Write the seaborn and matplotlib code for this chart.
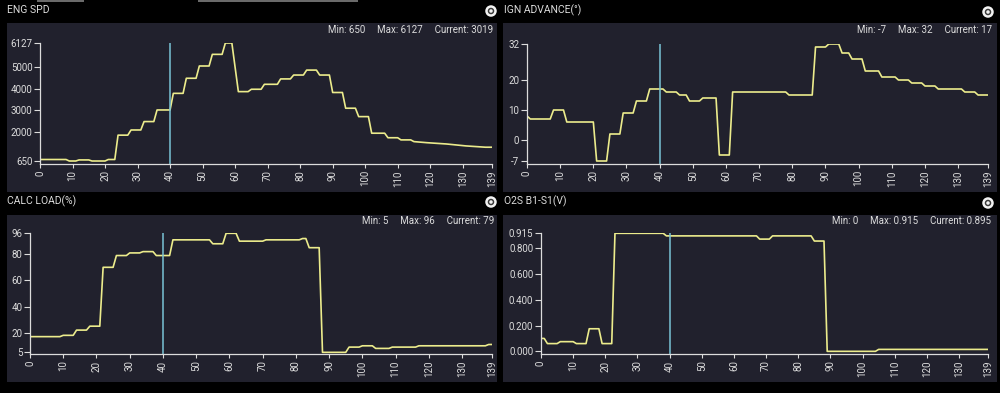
import matplotlib
matplotlib.use("Agg")
import matplotlib.pyplot as plt
import seaborn as sns
from matplotlib.patches import Rectangle, Ellipse

# ---------------- data (breakpoints of the logged traces) ----------------
x_ticks = [0, 10, 20, 30, 40, 50, 60, 70, 80, 90, 100, 110, 120, 130, 139]
cursor_x = 40

eng_x = [0, 8, 9, 11, 12, 15, 16, 20, 21, 23, 24, 27, 28, 31, 32, 35, 36, 40, 41, 44, 45, 48, 49, 52,
         53, 56, 57, 59, 61, 64, 65, 68, 69, 73, 74, 77, 78, 81, 82, 85, 86, 89, 90, 93, 94, 97, 98,
         101, 102, 106, 107, 110, 111, 114, 115, 119, 125, 131, 137, 139]
eng_y = [720, 720, 650, 650, 700, 700, 650, 650, 720, 720, 1850, 1850, 2090, 2090, 2480, 2480, 3019,
         3019, 3790, 3790, 4490, 4490, 5060, 5060, 5600, 5600, 6127, 6127, 3870, 3870, 3980, 3980,
         4210, 4210, 4460, 4460, 4640, 4640, 4870, 4870, 4640, 4640, 3830, 3830, 3100, 3100, 2710,
         2710, 1940, 1940, 1730, 1730, 1630, 1630, 1550, 1500, 1440, 1350, 1290, 1290]

ign_x = [0, 1, 7, 8, 11, 12, 20, 21, 24, 25, 28, 29, 32, 33, 36, 37, 41, 42, 45, 46, 48, 49, 52, 53,
         57, 58, 61, 62, 78, 79, 86, 87, 90, 91, 94, 95, 97, 98, 101, 102, 106, 107, 111, 112, 115,
         116, 119, 120, 123, 124, 131, 132, 135, 136, 139]
ign_y = [8, 7, 7, 10, 10, 6, 6, -7, -7, 2, 2, 9, 9, 13, 13, 17, 17, 16, 16, 15, 15, 13, 13, 14,
         14, -5, -5, 16, 16, 15, 15, 31, 31, 32, 32, 29, 29, 27, 27, 23, 23, 21, 21, 20, 20,
         19, 19, 18, 18, 17, 17, 16, 16, 15, 15]

load_x = [0, 9, 10, 13, 14, 17, 18, 21, 22, 25, 26, 29, 30, 33, 34, 37, 38, 42, 43, 54, 55, 58, 59,
          62, 63, 70, 71, 81, 82, 83, 84, 87, 88, 95, 96, 99, 100, 103, 104, 108, 109, 116, 117,
          137, 138, 139]
load_y = [17, 17, 18, 18, 22, 22, 25, 25, 70, 70, 79, 79, 81, 81, 82, 82, 79, 79, 91, 91, 88, 88, 96,
          96, 90, 90, 91, 91, 92, 92, 85, 85, 5, 5, 9, 9, 10, 10, 8, 8, 9, 9, 10,
          10, 11, 11]

o2_x = [0, 1, 2, 5, 6, 10, 11, 14, 15, 18, 19, 22, 23, 38, 39, 67, 68, 71, 72, 84, 85, 88, 89,
        104, 105, 139]
o2_y = [0.10, 0.10, 0.06, 0.06, 0.075, 0.075, 0.06, 0.06, 0.175, 0.175, 0.06, 0.06, 0.915, 0.915,
        0.895, 0.895, 0.87, 0.87, 0.895, 0.895, 0.855, 0.855, 0.0, 0.0, 0.015, 0.015]

titles = ["ENG SPD", "IGN ADVANCE(°)", "CALC LOAD(%)", "O2S B1-S1(V)"]
stats = [("650", "6127", "3019"), ("-7", "32", "17"), ("5", "96", "79"), ("0", "0.915", "0.895")]
ytick_vals = [[650, 2000, 3000, 4000, 5000, 6127],
              [-7, 0, 10, 20, 32],
              [5, 20, 40, 60, 80, 96],
              [0.0, 0.2, 0.4, 0.6, 0.8, 0.915]]
ytick_labels = [["650", "2000", "3000", "4000", "5000", "6127"],
                ["-7", "0", "10", "20", "32"],
                ["5", "20", "40", "60", "80", "96"],
                ["0.000", "0.200", "0.400", "0.600", "0.800", "0.915"]]
series = [(eng_x, eng_y), (ign_x, ign_y), (load_x, load_y), (o2_x, o2_y)]

# ---------------- layout (pixels) ----------------
W, H = 1000, 393
BG = "#000000"
PANEL = "#21212d"
LINE = "#ecec8c"
CURSOR = "#79c3d6"
TXT = "#dcdcdc"
FONT = ["Roboto", "DejaVu Sans"]

# axes boxes: left px, right px, top px (top tick), bottom px (spine), ylim
axes_px = [(40, 492, 43, 164, (511, 6127)),
           (527, 988, 44, 164, (-8, 32)),
           (30, 492, 233.3, 354.3, (3.5, 96)),
           (541, 988, 233.3, 354.3, (-0.023, 0.915))]
panel_px = [(7, 23, 497, 192), (503, 23, 997, 192), (7, 215, 497, 382), (503, 215, 997, 382)]
title_px = [(7, 10), (504, 10), (7, 201), (504, 201)]
stats_px = [(493, 30), (992, 30), (494, 221), (991, 221)]
icon_px = [(491, 11), (988, 12), (491, 202), (988, 203)]

plt.rcParams["font.family"] = FONT
fig = plt.figure(figsize=(W / 100, H / 100), dpi=100, facecolor=BG)


def fx(px):
    return px / W


def fy(py):
    return 1 - py / H


# cut-off UI bits on the top edge
for (a, b) in [(37, 84), (198, 358)]:
    fig.add_artist(Rectangle((fx(a), fy(2)), (b - a) / W, 2 / H, transform=fig.transFigure,
                             facecolor="#6a6a6a", edgecolor="none"))

for i in range(4):
    x0, y0, x1, y1 = panel_px[i]
    fig.add_artist(Rectangle((fx(x0), fy(y1)), (x1 - x0) / W, (y1 - y0) / H,
                             transform=fig.transFigure, facecolor=PANEL, edgecolor="none", zorder=0))
    tx, ty = title_px[i]
    fig.text(fx(tx), fy(ty), titles[i], color=TXT, fontsize=7.5, ha="left", va="center")
    sx, sy = stats_px[i]
    mn, mx, cur = stats[i]
    fig.text(fx(sx), fy(sy), f"Min: {mn}     Max: {mx}     Current: {cur}", color=TXT,
             fontsize=7, ha="right", va="center")
    cx, cy = icon_px[i]
    for d, c in [(11.5, "#f2f2f2"), (6.5, "#3a3a3a"), (3.5, "#f2f2f2")]:
        fig.add_artist(Ellipse((fx(cx), fy(cy)), d / W, d / H, transform=fig.transFigure,
                               facecolor=c, edgecolor="none"))

    l, r, t, b, ylim = axes_px[i]
    ax = fig.add_axes([fx(l), fy(b), (r - l) / W, (b - t) / H])
    ax.set_facecolor("none")
    xs, ys = series[i]
    sns.lineplot(x=xs, y=ys, ax=ax, color=LINE, linewidth=1.2, estimator=None, sort=False)
    ax.axvline(cursor_x, color=CURSOR, linewidth=1.1, ymin=0, ymax=1)
    ax.set_xlim(0, 139)
    ax.set_ylim(*ylim)
    ax.set_xticks(x_ticks)
    ax.set_xticklabels([str(v) for v in x_ticks], rotation=90)
    ax.set_yticks(ytick_vals[i])
    ax.set_yticklabels(ytick_labels[i])
    ax.tick_params(axis="both", colors=TXT, labelsize=7, length=3, width=0.8, pad=1.5)
    ax.tick_params(axis="y", length=4)
    for s in ["top", "right"]:
        ax.spines[s].set_visible(False)
    for s in ["left", "bottom"]:
        ax.spines[s].set_color(TXT)
        ax.spines[s].set_linewidth(0.9)
    ax.set_xlabel("")
    ax.set_ylabel("")

fig.savefig("out.png", dpi=100, facecolor=BG)
